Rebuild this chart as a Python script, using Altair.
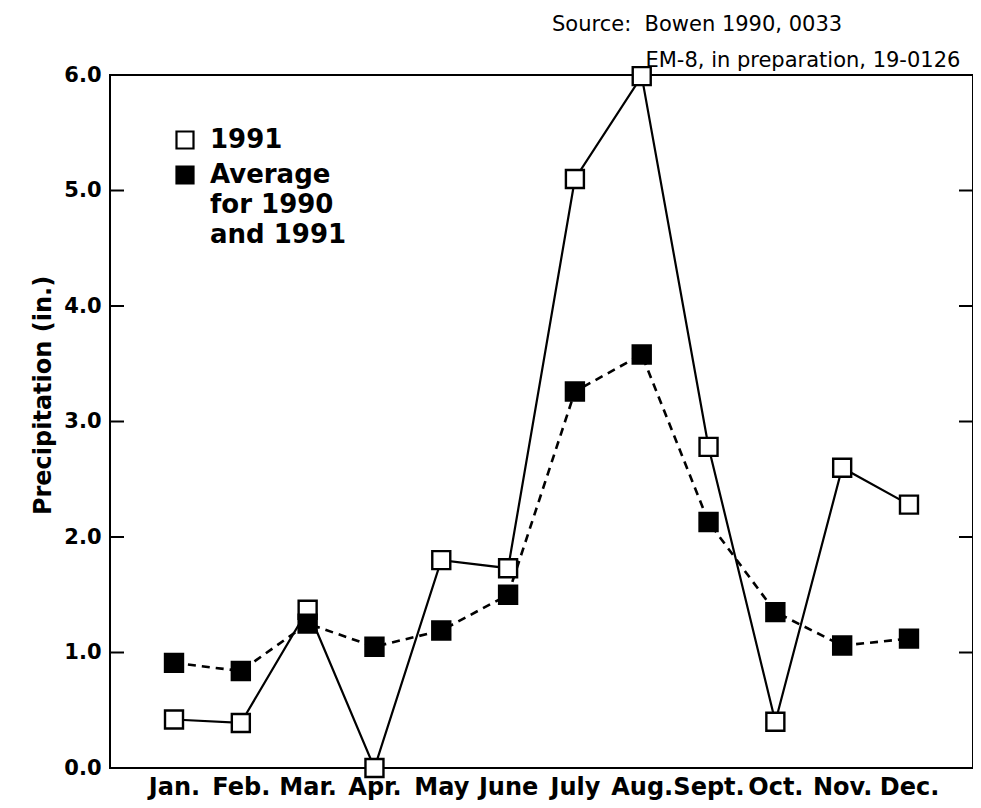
import altair as alt
import pandas as pd

months = ["Jan.", "Feb.", "Mar.", "Apr.", "May", "June", "July", "Aug.", "Sept.", "Oct.", "Nov.", "Dec."]
precip_1991 = [0.42, 0.39, 1.37, 0.00, 1.80, 1.73, 5.10, 5.99, 2.78, 0.40, 2.60, 2.28]
precip_avg = [0.91, 0.84, 1.25, 1.05, 1.19, 1.50, 3.26, 3.58, 2.13, 1.35, 1.06, 1.12]
series_names = ["1991", "Average"]
y_tick_values = [0, 1, 2, 3, 4, 5, 6]
inner_tick_values = [1, 2, 3, 4, 5]
source_lines = ["Source:\u00a0\u00a0Bowen 1990, 0033",
                "\u200b" + "\u00a0" * 14 + "EM-8, in preparation, 19-0126"]

W, H = 863, 693
FONT = "DejaVu Sans"

df = pd.DataFrame({
    "month": months * 2,
    "value": precip_1991 + precip_avg,
    "series": [series_names[0]] * len(months) + [series_names[1]] * len(months),
})
ticks_df = pd.DataFrame({"value": inner_tick_values})

x_enc = alt.X(
    "month:N", sort=months,
    scale=alt.Scale(type="point", padding=0.958),
    axis=alt.Axis(title=None, labelAngle=0, labelFont=FONT, labelFontWeight="bold",
                  labelFontSize=24, labelColor="black", ticks=False, domain=False,
                  grid=False, labelPadding=7),
)
y_enc = alt.Y(
    "value:Q",
    scale=alt.Scale(domain=[0, 6], nice=False, zero=True),
    axis=alt.Axis(values=y_tick_values, format=".1f", title="Precipitation (in.)",
                  ticks=False, domain=False, grid=False, labelFont=FONT,
                  labelFontWeight="bold", labelFontSize=21, labelColor="black",
                  labelPadding=9, titleFont=FONT, titleFontWeight="bold",
                  titleFontSize=24, titleColor="black", titleX=-60, titleY=320,
                  titleBaseline="alphabetic"),
)

base = alt.Chart(df)

line_1991 = base.transform_filter(alt.datum.series == "1991").mark_line(
    color="black", strokeWidth=2.2
).encode(x=x_enc, y=y_enc)

line_avg = base.transform_filter(alt.datum.series == "Average").mark_line(
    color="black", strokeWidth=2.6, strokeDash=[8, 6]
).encode(x=x_enc, y=y_enc)

points = base.mark_point(
    shape="square", filled=True, size=324, stroke="black", strokeWidth=2.4, opacity=1
).encode(
    x=x_enc, y=y_enc,
    fill=alt.Fill(
        "series:N",
        scale=alt.Scale(domain=series_names, range=["white", "black"]),
        legend=alt.Legend(
            title=None, orient="none", legendX=62, legendY=52, padding=0,
            symbolType="square", symbolSize=289, symbolStrokeColor="black",
            symbolStrokeWidth=2.2, labelFont=FONT, labelFontWeight="bold",
            labelFontSize=26, labelColor="black", labelOffset=12, labelLimit=0,
            rowPadding=9,
            labelExpr="datum.label == 'Average' ? ['Average', 'for 1990', 'and 1991'] : datum.label",
        ),
    ),
)

left_ticks = alt.Chart(ticks_df).mark_rule(color="black", strokeWidth=2).encode(
    y=alt.Y("value:Q"), x=alt.value(0), x2=alt.value(14)
)
right_ticks = alt.Chart(ticks_df).mark_rule(color="black", strokeWidth=2).encode(
    y=alt.Y("value:Q"), x=alt.value(W - 14), x2=alt.value(W)
)

chart = alt.layer(line_1991, line_avg, points, left_ticks, right_ticks).properties(
    width=W, height=H,
    autosize=alt.AutoSizeParams(type="none"),
    padding={"left": 102, "top": 67, "right": 0, "bottom": 32},
    title=alt.Title(text=source_lines, anchor="start", frame="group", dx=442,
                    font=FONT, fontSize=21, fontWeight="normal", lineHeight=36,
                    color="black", offset=-9),
).configure(
    background="white",
    view=alt.ViewConfig(stroke="black", strokeWidth=2),
    style={"guide-label": {"lineHeight": 30}},
)

chart.save("out.html", embed_options={"renderer": "svg", "actions": False})
